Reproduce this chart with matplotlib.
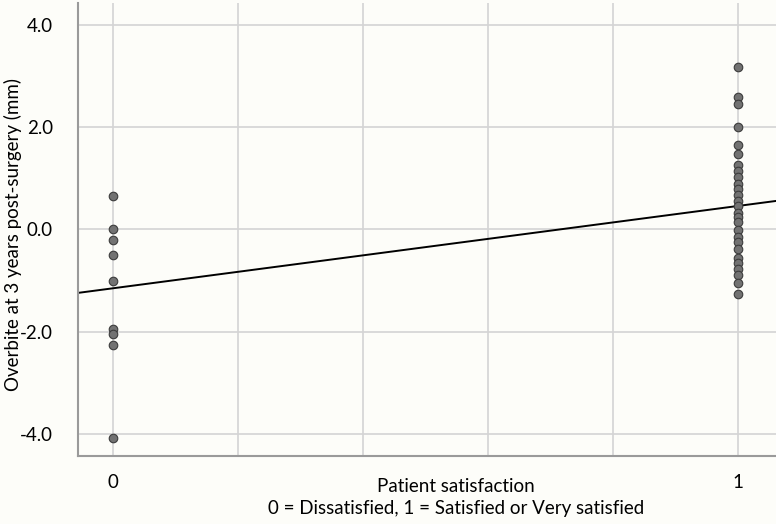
import numpy as np
import matplotlib.pyplot as plt

# satisfaction groups (0 = dissatisfied, 1 = satisfied / very satisfied)
group0_overbite = [0.65, 0.0, -0.2, -0.5, -1.0, -1.95, -2.05, -2.25, -4.08]
group1_overbite = [3.18, 2.59, 2.45, 2.01, 1.65, 1.48, 1.26, 1.15, 1.02, 0.89,
                   0.79, 0.67, 0.56, 0.46, 0.33, 0.24, 0.14, -0.01, -0.14,
                   -0.25, -0.38, -0.55, -0.65, -0.78, -0.89, -1.04, -1.27]

# fitted line (value at x=0 and x=1)
fit_x = [0, 1]
fit_y = [-1.15, 0.46]

y_ticks = [-4.0, -2.0, 0.0, 2.0, 4.0]
x_grid = [0, 0.2, 0.4, 0.6, 0.8, 1.0]

plt.rcParams['font.family'] = ['Lato', 'DejaVu Sans']
bg = '#fdfdf9'
fs = 13.5

fig = plt.figure(figsize=(7.76, 5.24), dpi=100, facecolor=bg)
ax = fig.add_axes([0.1005, 0.1298, 0.8995, 0.8645], facecolor=bg)

ax.set_xlim(-0.056, 1.061)
ax.set_ylim(-4.43, 4.43)

for xv in x_grid:
    ax.axvline(xv, color='#d4d4d4', lw=1.2, zorder=0)
for yv in y_ticks:
    ax.axhline(yv, color='#d4d4d4', lw=1.2, zorder=0)

# regression line, extended over the whole x range
slope = (fit_y[1] - fit_y[0]) / (fit_x[1] - fit_x[0])
xs = np.array(ax.get_xlim())
ax.plot(xs, fit_y[0] + slope * xs, color='black', lw=1.4, zorder=2)

ax.scatter(np.zeros(len(group0_overbite)), group0_overbite, s=38,
           color='#727272', edgecolor='#3c3c3c', linewidth=0.8, zorder=3)
ax.scatter(np.ones(len(group1_overbite)), group1_overbite, s=38,
           color='#727272', edgecolor='#3c3c3c', linewidth=0.8, zorder=3)

ax.set_xticks([0, 1])
ax.set_xticklabels(['0', '1'])
ax.set_yticks(y_ticks)
ax.set_yticklabels([f'{v:.1f}' for v in y_ticks])
ax.tick_params(length=0, labelsize=fs, colors='black')
ax.tick_params(axis='x', pad=13)
ax.tick_params(axis='y', pad=18)

for side in ['top', 'right']:
    ax.spines[side].set_visible(False)
for side in ['left', 'bottom']:
    ax.spines[side].set_color('#9a9a9a')
    ax.spines[side].set_linewidth(1.5)

ax.set_ylabel('Overbite at 3 years post-surgery (mm)', fontsize=fs, va='center')
ax.yaxis.set_label_coords(-0.093, 0.49)

fig.text(0.588, 0.0725, 'Patient satisfaction', ha='center', va='center', fontsize=fs)
fig.text(0.588, 0.0305, '0 = Dissatisfied, 1 = Satisfied or Very satisfied',
         ha='center', va='center', fontsize=fs)

fig.savefig('out.png', dpi=100, facecolor=bg)
